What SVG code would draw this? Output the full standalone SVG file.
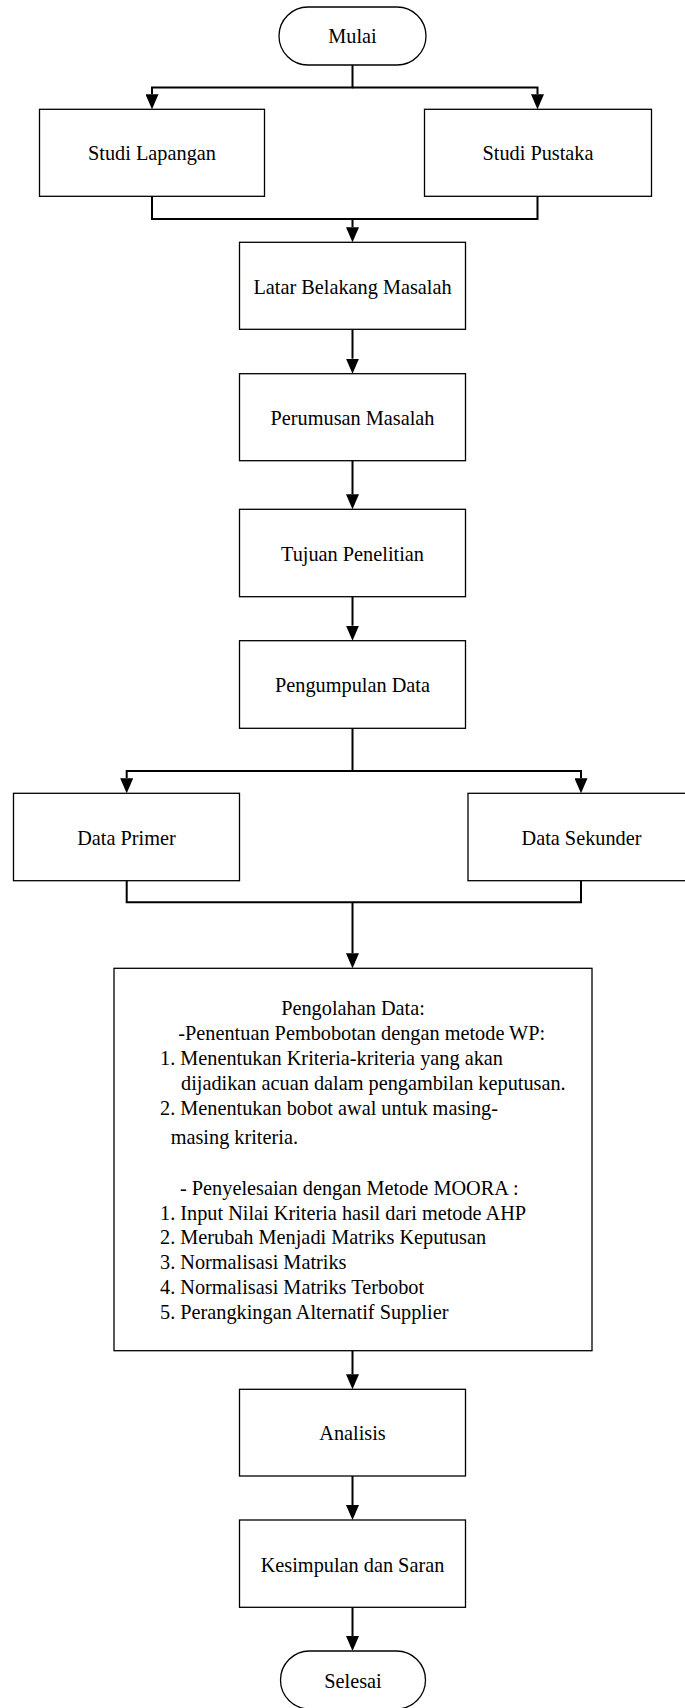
<svg xmlns="http://www.w3.org/2000/svg" width="685" height="1708" viewBox="0 0 685 1708">
<style>
.box{fill:#fff;stroke:#000;stroke-width:1.3}
.t{font-family:"Liberation Serif","Times New Roman",serif;font-size:20.3px;fill:#000}
.c{text-anchor:middle}
.ln{fill:none;stroke:#000;stroke-width:2}
</style>
<defs>
<marker id="ah" viewBox="0 0 15 13" refX="0" refY="6.5" markerWidth="15" markerHeight="13" markerUnits="userSpaceOnUse" orient="auto">
<path d="M0,0 L15,6.5 L0,13 Z" fill="#000"/>
</marker>
</defs>
<rect width="685" height="1708" fill="#fff"/>
<g id="connectors">
<path class="ln" d="M352.5 65 V87.5 H152 V94.3" marker-end="url(#ah)"/>
<path class="ln" d="M352.5 87.5 H537.5 V94.3" marker-end="url(#ah)"/>
<path class="ln" d="M152 196.3 V219 H537.5 V196.3"/>
<path class="ln" d="M352.5 219 V227.3" marker-end="url(#ah)"/>
<path class="ln" d="M352.5 329.3 V358.7" marker-end="url(#ah)"/>
<path class="ln" d="M352.5 460.7 V494.3" marker-end="url(#ah)"/>
<path class="ln" d="M352.5 596.7 V625.7" marker-end="url(#ah)"/>
<path class="ln" d="M352.5 728.3 V771 H126.7 V778.3" marker-end="url(#ah)"/>
<path class="ln" d="M352.5 771 H581 V778.3" marker-end="url(#ah)"/>
<path class="ln" d="M126.7 880.7 V902.3 H581 V880.7"/>
<path class="ln" d="M352.5 902.3 V953.3" marker-end="url(#ah)"/>
<path class="ln" d="M352.5 1350.7 V1374.3" marker-end="url(#ah)"/>
<path class="ln" d="M352.5 1476 V1505" marker-end="url(#ah)"/>
<path class="ln" d="M352.5 1607.3 V1636" marker-end="url(#ah)"/>
</g>
<g id="mulai">
<rect class="box" x="279" y="7" width="147" height="58" rx="29" ry="29"/>
<text class="t c" x="352.5" y="43.3">Mulai</text>
</g>
<g id="studi-lapangan">
<rect class="box" x="39.5" y="109.3" width="225" height="87"/>
<text class="t c" x="152" y="160">Studi Lapangan</text>
</g>
<g id="studi-pustaka">
<rect class="box" x="424.5" y="109.3" width="227" height="87"/>
<text class="t c" x="538" y="160">Studi Pustaka</text>
</g>
<g id="latar-belakang">
<rect class="box" x="239.5" y="242.3" width="226" height="87"/>
<text class="t c" x="352.5" y="293.5">Latar Belakang Masalah</text>
</g>
<g id="perumusan">
<rect class="box" x="239.5" y="373.7" width="226" height="87"/>
<text class="t c" x="352.5" y="424.7">Perumusan Masalah</text>
</g>
<g id="tujuan">
<rect class="box" x="239.5" y="509.3" width="226" height="87.4"/>
<text class="t c" x="352.5" y="560.5">Tujuan Penelitian</text>
</g>
<g id="pengumpulan">
<rect class="box" x="239.5" y="640.7" width="226" height="87.6"/>
<text class="t c" x="352.5" y="692">Pengumpulan Data</text>
</g>
<g id="data-primer">
<rect class="box" x="13.5" y="793.3" width="226" height="87.4"/>
<text class="t c" x="126.5" y="844.5">Data Primer</text>
</g>
<g id="data-sekunder">
<rect class="box" x="468" y="793.3" width="226" height="87.4"/>
<text class="t c" x="581.5" y="844.5">Data Sekunder</text>
</g>
<g id="pengolahan">
<rect class="box" x="114" y="968.3" width="478" height="382.4"/>
<text class="t c" x="353" y="1015">Pengolahan Data:</text>
<text class="t" x="178.3" y="1040">-Penentuan Pembobotan dengan metode WP:</text>
<text class="t" x="160" y="1065">1. Menentukan Kriteria-kriteria yang akan</text>
<text class="t" x="181" y="1089.5">dijadikan acuan dalam pengambilan keputusan.</text>
<text class="t" x="160" y="1115">2. Menentukan bobot awal untuk masing-</text>
<text class="t" x="170.7" y="1144.3">masing kriteria.</text>
<text class="t" x="180" y="1195">- Penyelesaian dengan Metode MOORA :</text>
<text class="t" x="160" y="1219.5">1. Input Nilai Kriteria hasil dari metode AHP</text>
<text class="t" x="160" y="1244.3">2. Merubah Menjadi Matriks Keputusan</text>
<text class="t" x="160" y="1269">3. Normalisasi Matriks</text>
<text class="t" x="160" y="1294">4. Normalisasi Matriks Terbobot</text>
<text class="t" x="160" y="1319">5. Perangkingan Alternatif Supplier</text>
</g>
<g id="analisis">
<rect class="box" x="239.5" y="1389.3" width="226" height="86.7"/>
<text class="t c" x="352.5" y="1440">Analisis</text>
</g>
<g id="kesimpulan">
<rect class="box" x="239.5" y="1520" width="226" height="87.3"/>
<text class="t c" x="352.5" y="1571.5">Kesimpulan dan Saran</text>
</g>
<g id="selesai">
<rect class="box" x="280.5" y="1651" width="145" height="58" rx="29" ry="29"/>
<text class="t c" x="353" y="1687.5">Selesai</text>
</g>
</svg>
